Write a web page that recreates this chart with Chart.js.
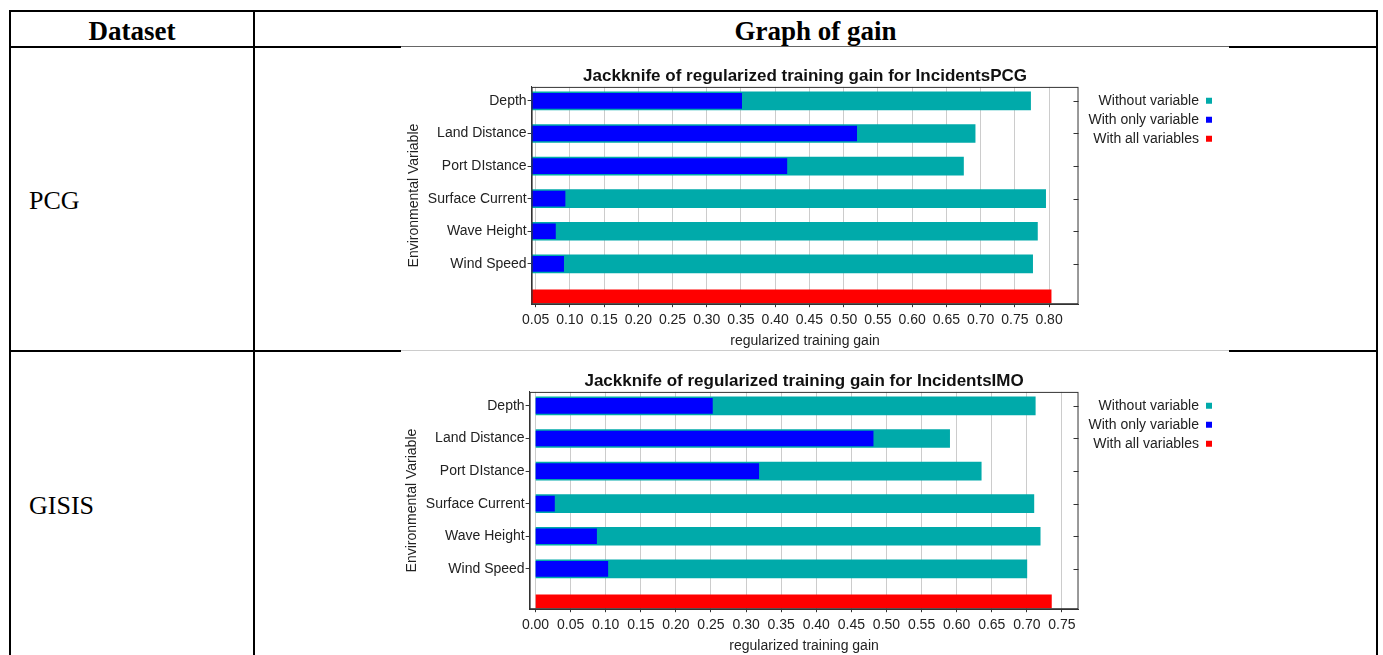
<!DOCTYPE html>
<html>
<head>
<meta charset="utf-8">
<title>Graph of gain</title>
<script src="https://cdn.jsdelivr.net/npm/chart.js@4.4.1/dist/chart.umd.min.js"></script>
<style>
  body { margin: 0; background: #fff; width: 1383px; height: 655px; overflow: hidden; position: relative; font-family: "Liberation Serif", "Times New Roman", serif; }
  .line { position: absolute; background: #000; }
  .thin { position: absolute; height: 1px; }
  .txt { position: absolute; font-size: 26px; line-height: 30px; color: #000; white-space: nowrap; }
  .head { font-weight: bold; text-align: center; font-size: 27px; }
  canvas { position: absolute; }
</style>
</head>
<body>
  <!-- table frame -->
  <div class="line" style="left:9px;top:10px;width:1369px;height:2px"></div>
  <div class="line" style="left:9px;top:10px;width:2px;height:660px"></div>
  <div class="line" style="left:253px;top:10px;width:2px;height:660px"></div>
  <div class="line" style="left:1376px;top:10px;width:2px;height:660px"></div>
  <div class="line" style="left:9px;top:46px;width:392px;height:2px"></div>
  <div class="line" style="left:1229px;top:46px;width:149px;height:2px"></div>
  <div class="thin" style="left:401px;top:46px;width:828px;background:#666"></div>
  <div class="line" style="left:9px;top:350px;width:392px;height:2px"></div>
  <div class="line" style="left:1229px;top:350px;width:149px;height:2px"></div>
  <div class="thin" style="left:401px;top:350px;width:828px;background:#ccc"></div>

  <div class="txt head" style="left:11px;top:16px;width:242px">Dataset</div>
  <div class="txt head" style="left:255px;top:16px;width:1121px">Graph of gain</div>
  <div class="txt" style="left:29px;top:186px">PCG</div>
  <div class="txt" style="left:29px;top:491px">GISIS</div>

  <canvas id="pcgChart" width="829" height="303" style="left:400px;top:47px"></canvas>
  <canvas id="imoChart" width="829" height="303" style="left:400px;top:352px"></canvas>

<script>
const variables = ["Depth", "Land Distance", "Port DIstance", "Surface Current", "Wave Height", "Wind Speed"];
const seriesNames = ["Without variable", "With only variable", "With all variables"];

// IncidentsPCG
const pcgWithout = [0.773, 0.692, 0.675, 0.795, 0.783, 0.776];
const pcgOnly = [0.351, 0.519, 0.417, 0.093, 0.079, 0.091];
const pcgAll = [0.803];
const pcgTicks = [0.05, 0.10, 0.15, 0.20, 0.25, 0.30, 0.35, 0.40, 0.45, 0.50, 0.55, 0.60, 0.65, 0.70, 0.75, 0.80];

// IncidentsIMO
const imoWithout = [0.712, 0.590, 0.635, 0.710, 0.719, 0.700];
const imoOnly = [0.252, 0.481, 0.318, 0.027, 0.087, 0.103];
const imoAll = [0.735];
const imoTicks = [0.00, 0.05, 0.10, 0.15, 0.20, 0.25, 0.30, 0.35, 0.40, 0.45, 0.50, 0.55, 0.60, 0.65, 0.70, 0.75];

const sansFont = "'Liberation Sans', Arial, sans-serif";
const textColor = "#222";

// outline of the plot plus the short inward ticks on its right edge
const plotFrame = {
  id: "plotFrame",
  afterDatasetsDraw(chart) {
    const { ctx, chartArea: a, scales } = chart;
    ctx.save();
    ctx.strokeStyle = "#333";
    ctx.lineWidth = 1;
    ctx.strokeRect(a.left + 0.5, a.top + 0.5, a.width - 1, a.height - 1);
    scales.y.ticks.forEach((t) => {
      const y = Math.round(scales.y.getPixelForValue(t.value)) + 0.5;
      ctx.beginPath();
      ctx.moveTo(a.right - 5, y);
      ctx.lineTo(a.right, y);
      ctx.stroke();
    });
    ctx.restore();
  },
};

function makeChart(canvasId, title, without, only, all, ticks, xMin, xMax, padLeft) {
  const ctx = document.getElementById(canvasId).getContext("2d");
  return new Chart(ctx, {
    type: "bar",
    data: {
      datasets: [
        {
          label: seriesNames[0],
          data: without.map((v, i) => ({ x: v, y: i })),
          backgroundColor: "#00aaaa",
          maxBarThickness: 18,
          order: 1,
        },
        {
          label: seriesNames[1],
          data: only.map((v, i) => ({ x: v, y: i })),
          backgroundColor: "#0000ff",
          maxBarThickness: 15,
          order: 0,
        },
        {
          label: seriesNames[2],
          data: all.map((v) => ({ x: v, y: variables.length })),
          backgroundColor: "#ff0000",
          maxBarThickness: 13,
          order: 2,
        },
      ],
    },
    options: {
      indexAxis: "y",
      responsive: false,
      animation: false,
      grouped: false,
      barPercentage: 1,
      categoryPercentage: 1,
      layout: { padding: { top: 19, right: 12, bottom: 2, left: padLeft } },
      scales: {
        x: {
          type: "linear",
          min: xMin,
          max: xMax,
          afterBuildTicks: (axis) => {
            axis.ticks = ticks.map((v) => ({ value: v }));
          },
          grid: { color: "#cccccc", tickColor: "#333", tickLength: 3 },
          border: { display: true, color: "#333" },
          ticks: {
            autoSkip: false,
            maxRotation: 0,
            padding: 5,
            color: textColor,
            font: { size: 14, family: sansFont },
            callback: (v) => Number(v).toFixed(2),
          },
          title: {
            display: true,
            text: "regularized training gain",
            color: textColor,
            font: { size: 14, family: sansFont, lineHeight: 1 },
            padding: { top: 0, bottom: 0 },
          },
        },
        y: {
          type: "linear",
          reverse: true,
          offset: false,
          bounds: "data",
          min: -0.43,
          max: 6.24,
          afterBuildTicks: (axis) => {
            axis.ticks = variables.map((_, i) => ({ value: i }));
          },
          grid: { offset: false, drawOnChartArea: false, tickColor: "#333", tickLength: 4 },
          border: { display: true, color: "#333" },
          ticks: {
            padding: 1,
            color: textColor,
            font: { size: 14, family: sansFont },
            callback: (v) => variables[v] ?? "",
          },
          title: {
            display: true,
            text: "Environmental Variable",
            color: textColor,
            font: { size: 14, family: sansFont },
            padding: { top: 4, bottom: 4 },
          },
        },
      },
      plugins: {
        title: {
          display: true,
          text: title,
          fullSize: false,
          color: "#111",
          font: { size: 17, weight: "bold", family: sansFont },
          padding: { top: 0, bottom: 0.5 },
        },
        legend: {
          position: "right",
          align: "start",
          rtl: true,
          fullSize: false,
          title: { display: true, text: "", padding: 0, font: { size: 1.5 } },
          labels: {
            boxWidth: 6,
            boxHeight: 6,
            padding: 5,
            color: textColor,
            font: { size: 14, family: sansFont },
            sort: (a, b) => a.datasetIndex - b.datasetIndex,
          },
        },
        tooltip: { enabled: false },
      },
    },
    plugins: [plotFrame],
  });
}

makeChart("pcgChart", "Jackknife of regularized training gain for IncidentsPCG",
  pcgWithout, pcgOnly, pcgAll, pcgTicks, 0.0442, 0.843, 2);
makeChart("imoChart", "Jackknife of regularized training gain for IncidentsIMO",
  imoWithout, imoOnly, imoAll, imoTicks, -0.0084, 0.7736, 0);
</script>
</body>
</html>
